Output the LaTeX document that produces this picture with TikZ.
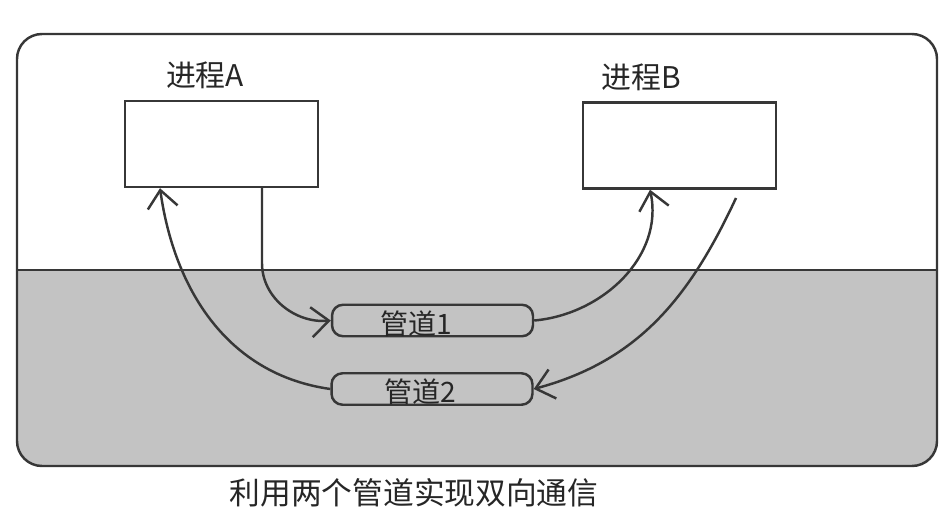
\documentclass[tikz,border=0pt]{standalone}
\usepackage{fontspec}
\newfontfamily\cjk{Noto Sans CJK SC}
\usetikzlibrary{arrows.meta}
\definecolor{pipegray}{RGB}{195,195,195}
\definecolor{ink}{RGB}{55,55,55}

\begin{document}
\begin{tikzpicture}[x=0.02cm, y=-0.02cm, line width=1.4pt, draw=ink,
    proc/.style={draw, fill=white, minimum width=3.86cm, minimum height=1.72cm, inner sep=0pt},
    pipe/.style={draw, fill=pipegray, rounded corners=0.22cm, minimum width=4.02cm, minimum height=0.63cm, inner sep=0pt},
    lbl/.style={font=\cjk\fontsize{17}{20}\selectfont, text=black!85},
    plbl/.style={font=\cjk\fontsize{16}{18}\selectfont, text=black!85},
    link/.style={draw=ink, line width=1.4pt, -{Straight Barb[length=3.5mm, width=6mm, line width=1.4pt]}}]
    \useasboundingbox (0, 0) rectangle (945, 513);
    \def\r{0.5cm};
    \begin{scope}
        \clip[rounded corners=\r] (17, 34) rectangle (937, 466);
        \fill[white] (17, 34) rectangle (937, 270);
        \fill[pipegray] (17, 270) rectangle (937, 466);
    \end{scope}
    \draw[rounded corners=\r] (17, 34) rectangle (937, 466);
    \draw (17, 270) -- (937, 270);
    \node[proc] (pA) at (221.5, 144) {};
    \node[proc] (pB) at (679.5, 145.5) {};
    \node[lbl] (tA) at (205, 75) {进程A};
    \node[lbl] (tB) at (641, 77) {进程B};
    \node[pipe] (pipe1) at (432.5, 320.5) {};
    \node[pipe] (pipe2) at (432, 389) {};
    \node[plbl] (t1) at (416, 324) {管道1};
    \node[plbl] (t2) at (420, 392) {管道2};
    \coordinate (bfree) at (736, 198);
    \draw[link] ([xshift=0.81cm]pA.south) -- ++(0, 75) to[out=-90, in=185] (pipe1.west);
    \draw[link] (pipe2.west) to[out=172, in=-82] ([xshift=-1.23cm]pA.south);
    \draw[link] (pipe1.east) to[out=5, in=-78] ([xshift=-0.59cm]pB.south);
    \draw[link] (bfree) to[out=-115, in=15] (pipe2.east);
    \node[font=\cjk\fontsize{17.5}{20}\selectfont, text=black!85] (cap) at (414, 493) {利用两个管道实现双向通信};
\end{tikzpicture}
\end{document}
